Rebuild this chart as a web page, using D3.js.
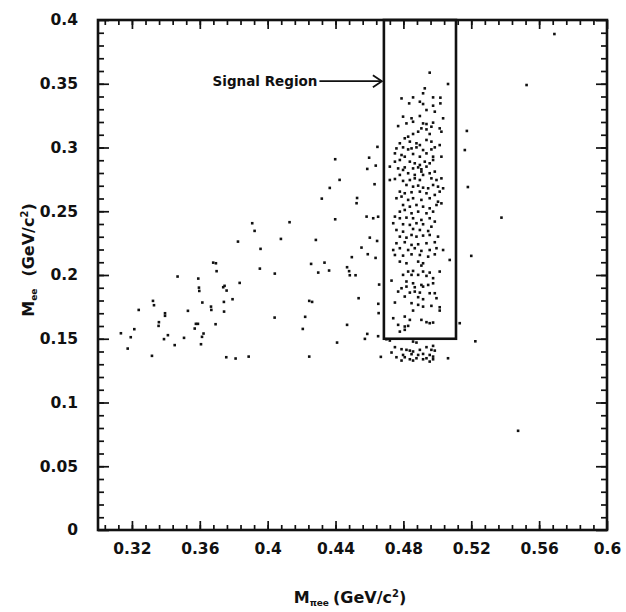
<!DOCTYPE html>
<html lang="en">
<head>
<meta charset="UTF-8">
<title>Mee vs Mpiee</title>
<script src="https://d3js.org/d3.v7.min.js"></script>
<style>
  body { margin: 0; background: #fff; }
  text { font-family: "DejaVu Sans", sans-serif; fill: #111; }
</style>
</head>
<body>
<svg id="chart"></svg>
<script>
// tick values / labels
const xTicks = [0.32, 0.36, 0.4, 0.44, 0.48, 0.52, 0.56, 0.6];
const yTicks = [0, 0.05, 0.1, 0.15, 0.2, 0.25, 0.3, 0.35, 0.4];

// signal region bounds (Mpiee, Mee)
const regionX = [0.4685, 0.511];
const regionY = [0.15, 0.4];

// events left of the signal region
const leftX = [0.3135,0.3175,0.3193,0.3214,0.3240,0.3318,0.3324,0.3330,0.3359,0.3357,0.3389,0.3395,0.3395,0.3412,0.3452,0.3469,0.3507,0.3530,0.3570,0.3577,
  0.3589,0.3591,0.3595,0.3597,0.3607,0.3613,0.3615,0.3622,0.3666,0.3668,0.3679,0.3695,0.3693,0.3699,0.3738,0.3746,0.3742,0.3743,0.3758,0.3756,
  0.3793,0.3811,0.3825,0.3835,0.3888,0.3909,0.3923,0.3954,0.3958,0.4041,0.4042,0.4078,0.4129,0.4207,0.4221,0.4245,0.4245,0.4262,0.4256,0.4284,
  0.4298,0.4319,0.4335,0.4362,0.4366,0.4398,0.4398,0.4409,0.4424,0.4468,0.4468,0.4480,0.4484,0.4496,0.4518,0.4524,0.4527,0.4536,0.4553,0.4573,
  0.4587,0.4583,0.4587,0.4598,0.4590,0.4602,0.4630,0.4636,0.4637,0.4645,0.4622,0.4647,0.4651,0.4657,0.4652,0.4654,0.4651,0.4667];
const leftY = [0.1543,0.1423,0.1512,0.1575,0.1726,0.1366,0.1797,0.1763,0.1630,0.1601,0.1497,0.1700,0.1680,0.1528,0.1450,0.1988,0.1507,0.1719,0.1580,0.1617,
  0.1617,0.1972,0.1901,0.1875,0.1457,0.1515,0.1784,0.1541,0.1752,0.1726,0.2097,0.2092,0.1614,0.2030,0.1904,0.1915,0.1789,0.1713,0.1878,0.1355,
  0.1810,0.1345,0.2262,0.1938,0.1360,0.2406,0.2346,0.2050,0.2205,0.1666,0.2011,0.2283,0.2414,0.1577,0.1672,0.1360,0.1797,0.1789,0.2087,0.2275,
  0.2019,0.2599,0.2097,0.2035,0.2683,0.2908,0.2437,0.1470,0.2746,0.2061,0.1609,0.2030,0.1998,0.2140,0.1998,0.2563,0.2604,0.1818,0.2215,0.1499,
  0.1538,0.2458,0.2832,0.2920,0.2163,0.2293,0.2712,0.2134,0.2858,0.2267,0.2445,0.3005,0.2457,0.1925,0.1774,0.1701,0.1520,0.1358];

// events inside the signal region
const boxX = [0.4955,0.5063,0.4926,0.4916,0.4789,0.4857,0.4975,0.5018,0.4834,0.4897,0.4916,0.4975,0.5018,0.4936,0.4985,0.4798,0.4848,0.4897,0.5034,0.4769,
  0.4818,0.4857,0.4916,0.4936,0.4975,0.4906,0.4936,0.4965,0.5014,0.4887,0.4857,0.4828,0.4808,0.4955,0.5024,0.4779,0.4838,0.4877,0.4897,0.4936,
  0.4965,0.4759,0.4798,0.4828,0.4848,0.4877,0.4916,0.4965,0.4985,0.5014,0.4750,0.4789,0.4808,0.4857,0.4897,0.4936,0.4975,0.5024,0.4750,0.4779,
  0.4838,0.4867,0.4897,0.4926,0.4955,0.4975,0.4720,0.4769,0.4808,0.4857,0.4887,0.4906,0.4936,
  0.4798,0.4906,0.4779,0.4828,0.4867,0.4916,0.4955,0.4985,0.4720,0.4750,0.4798,0.4838,0.4867,0.4897,0.4965,0.4995,0.5024,0.4818,0.4857,0.4887,
  0.4916,0.4946,0.4975,0.5004,0.5034,0.4779,0.4808,0.4848,0.4897,0.4936,0.4985,0.5014,0.4759,0.4789,0.4828,0.4857,0.4906,0.4955,0.5004,0.5024,
  0.4798,0.4838,0.4877,0.4916,0.4955,0.4995,0.4779,0.4808,0.4848,0.4887,0.4936,0.4975,0.4750,0.4779,0.4818,0.4857,0.4906,0.4955,0.4985,0.4740,
  0.4798,0.4838,0.4877,0.4916,0.4965,0.4759,0.4798,0.4857,0.4897,0.4946,0.4779,0.4818,0.4848,0.4877,0.4916,0.4955,0.5004,0.4759,0.4808,0.4848,
  0.4887,0.4936,0.4985,0.4740,0.4779,0.4828,0.4867,0.4906,0.4955,0.4995,0.5034,0.4750,0.4798,0.4848,0.4897,0.4946,0.4985,0.5073,0.4779,0.4818,
  0.4887,0.4916,0.4906,
  0.4828,0.4857,0.4916,0.4955,0.5014,0.4798,0.4848,0.4887,0.4936,0.4975,0.4730,0.4818,0.4857,0.4906,0.4946,0.4975,0.4789,0.4818,0.4867,0.4916,
  0.4769,0.4838,0.4867,0.4897,0.4955,0.4985,0.4808,0.4887,0.4916,0.4995,0.4750,0.4848,0.4887,0.4916,0.4965,0.5014,0.4857,0.5014,0.4740,0.4808,
  0.4838,0.4906,0.4936,0.4955,0.4975,0.4769,0.4808,0.4828,0.4779,0.4808];
const boxY = [0.3587,0.3498,0.3464,0.3425,0.3385,0.3393,0.3393,0.3391,0.3346,0.3359,0.3341,0.3328,0.3346,0.3294,0.3281,0.3242,0.3229,0.3247,0.3229,0.3168,
  0.3189,0.3202,0.3189,0.3184,0.3195,0.3150,0.3142,0.3163,0.3150,0.3124,0.3106,0.3085,0.3072,0.3106,0.3124,0.3033,0.3046,0.3033,0.3019,0.3059,
  0.3046,0.2993,0.3001,0.2985,0.2993,0.3001,0.2980,0.2985,0.3001,0.3019,0.2954,0.2941,0.2928,0.2949,0.2928,0.2954,0.2928,0.2928,0.2889,0.2902,
  0.2889,0.2876,0.2863,0.2889,0.2876,0.2902,0.2850,0.2836,0.2844,0.2836,0.2844,0.2829,0.2850,
  0.2824,0.2811,0.2785,0.2798,0.2785,0.2785,0.2798,0.2811,0.2745,0.2753,0.2738,0.2745,0.2758,0.2745,0.2758,0.2745,0.2758,0.2706,0.2693,0.2701,
  0.2685,0.2680,0.2706,0.2693,0.2680,0.2654,0.2641,0.2649,0.2654,0.2641,0.2628,0.2654,0.2602,0.2615,0.2589,0.2602,0.2589,0.2602,0.2575,0.2562,
  0.2549,0.2536,0.2549,0.2536,0.2523,0.2549,0.2497,0.2510,0.2484,0.2497,0.2484,0.2497,0.2458,0.2445,0.2450,0.2445,0.2432,0.2445,0.2419,0.2406,
  0.2398,0.2393,0.2406,0.2398,0.2379,0.2353,0.2340,0.2361,0.2353,0.2345,0.2301,0.2293,0.2314,0.2301,0.2309,0.2314,0.2301,0.2249,0.2257,0.2236,
  0.2241,0.2249,0.2257,0.2196,0.2210,0.2196,0.2210,0.2189,0.2196,0.2210,0.2196,0.2157,0.2152,0.2162,0.2157,0.2144,0.2162,0.2118,0.2105,0.2092,
  0.2105,0.2092,0.2074,
  0.2027,0.2032,0.2027,0.2019,0.2027,0.2001,0.2001,0.2001,0.1993,0.1975,0.1956,0.1949,0.1935,0.1922,0.1922,0.1935,0.1896,0.1909,0.1904,0.1909,
  0.1870,0.1862,0.1870,0.1862,0.1857,0.1857,0.1831,0.1826,0.1810,0.1818,0.1784,0.1779,0.1766,0.1752,0.1758,0.1747,0.1721,0.1721,0.1661,0.1674,
  0.1648,0.1648,0.1630,0.1622,0.1627,0.1609,0.1596,0.1601,0.1556,0.1570];

// events below the Mee cut
const lowX = [0.4700,0.4720,0.4857,0.4877,0.4975,0.4750,0.4789,0.4818,0.4838,0.4857,0.4897,0.4936,0.4965,0.4985,0.4730,0.4798,0.4848,0.4887,0.4916,0.4955,
  0.4975,0.4759,0.4808,0.4838,0.4877,0.4916,0.4936,0.4975,0.5063,0.4789,0.4857,0.4955];
const lowY = [0.1496,0.1486,0.1478,0.1470,0.1444,0.1434,0.1418,0.1413,0.1407,0.1400,0.1413,0.1434,0.1413,0.1407,0.1392,0.1373,0.1379,0.1373,0.1381,0.1373,
  0.1360,0.1355,0.1355,0.1339,0.1347,0.1339,0.1347,0.1339,0.1347,0.1329,0.1329,0.1321];

// events right of the signal region
const rightX = [0.5526,0.5174,0.5162,0.5180,0.5378,0.5200,0.5224,0.5476,0.5690,0.5132];
const rightY = [0.3490,0.3130,0.2980,0.2690,0.2450,0.2150,0.1480,0.0778,0.3890,0.1622];

const W = 626, H = 612;
const margin = {top: 20, right: 19, bottom: 82, left: 98};
const width = W - margin.left - margin.right;
const height = H - margin.top - margin.bottom;

const svg = d3.select("#chart").attr("width", W).attr("height", H);
const g = svg.append("g").attr("transform", `translate(${margin.left},${margin.top})`);

const x = d3.scaleLinear().domain([0.3, 0.6]).range([0, width]);
const y = d3.scaleLinear().domain([0, 0.4]).range([height, 0]);

const xMinor = d3.range(0, 38).map(i => 0.304 + i * 0.008).filter(v => v < 0.6);
const yMinor = d3.range(1, 40).map(i => i * 0.01);

function styleAxis(sel) {
  sel.select(".domain").remove();
  sel.selectAll("line").attr("stroke", "#111").attr("stroke-width", 1.7);
  sel.selectAll("text").style("font-size", "15.5px").style("font-weight", "bold")
    .style("font-family", "'DejaVu Sans', sans-serif");
}

// minor ticks, all four sides (inward)
g.append("g").attr("transform", `translate(0,${height})`)
  .call(d3.axisBottom(x).tickValues(xMinor).tickSize(-5).tickFormat("")).call(styleAxis);
g.append("g")
  .call(d3.axisTop(x).tickValues(xMinor).tickSize(-5).tickFormat("")).call(styleAxis);
g.append("g")
  .call(d3.axisLeft(y).tickValues(yMinor).tickSize(-6).tickFormat("")).call(styleAxis);
g.append("g").attr("transform", `translate(${width},0)`)
  .call(d3.axisRight(y).tickValues(yMinor).tickSize(-6).tickFormat("")).call(styleAxis);

// major ticks + labels
g.append("g").attr("transform", `translate(0,${height})`)
  .call(d3.axisBottom(x).tickValues(xTicks).tickSize(-9).tickPadding(13).tickFormat(d3.format("~g")))
  .call(styleAxis);
g.append("g")
  .call(d3.axisTop(x).tickValues(xTicks).tickSize(-9).tickFormat("")).call(styleAxis);
g.append("g")
  .call(d3.axisLeft(y).tickValues(yTicks).tickSize(-11).tickPadding(20).tickFormat(d3.format("~g")))
  .call(styleAxis);
g.append("g").attr("transform", `translate(${width},0)`)
  .call(d3.axisRight(y).tickValues(yTicks).tickSize(-11).tickFormat("")).call(styleAxis);

// frame
g.append("rect")
  .attr("x", 0).attr("y", 0).attr("width", width).attr("height", height)
  .attr("fill", "none").attr("stroke", "#111").attr("stroke-width", 2.6);

// events
const events = [];
[[leftX, leftY], [boxX, boxY], [lowX, lowY], [rightX, rightY]].forEach(([xs, ys]) => {
  xs.forEach((v, i) => events.push({m: v, mee: ys[i]}));
});

g.append("g").selectAll("rect")
  .data(events)
  .join("rect")
  .attr("x", d => x(d.m) - 1.3)
  .attr("y", d => y(d.mee) - 1.3)
  .attr("width", 2.6)
  .attr("height", 2.6)
  .attr("fill", "#111");

// signal region box
g.append("rect")
  .attr("x", x(regionX[0]))
  .attr("y", y(regionY[1]))
  .attr("width", x(regionX[1]) - x(regionX[0]))
  .attr("height", y(regionY[0]) - y(regionY[1]))
  .attr("fill", "none").attr("stroke", "#111").attr("stroke-width", 2.6);

// label + arrow
const arrowY = y(0.352);
const ax0 = x(0.4305), ax1 = x(regionX[0]) - 2;
g.append("text")
  .attr("x", ax0 - 2).attr("y", arrowY + 4.5)
  .attr("text-anchor", "end")
  .style("font-size", "13.5px").style("font-weight", "bold")
  .text("Signal Region");
g.append("line")
  .attr("x1", ax0).attr("x2", ax1).attr("y1", arrowY).attr("y2", arrowY)
  .attr("stroke", "#111").attr("stroke-width", 1.8);
g.append("path")
  .attr("d", `M${ax1 - 9},${arrowY - 6}L${ax1},${arrowY}L${ax1 - 9},${arrowY + 6}`)
  .attr("fill", "none").attr("stroke", "#111").attr("stroke-width", 1.8);

// axis titles
const xt = svg.append("text")
  .attr("x", 350).attr("y", 603)
  .attr("text-anchor", "middle")
  .style("font-size", "16px").style("font-weight", "bold");
xt.append("tspan").text("M");
xt.append("tspan").attr("dy", 3).style("font-size", "9px").text("πee");
xt.append("tspan").attr("dy", -3).attr("dx", 4).text("(GeV/c");
xt.append("tspan").attr("dy", -6).style("font-size", "10px").text("2");
xt.append("tspan").attr("dy", 6).text(")");

const yt = svg.append("text")
  .attr("transform", `translate(34,260) rotate(-90)`)
  .attr("text-anchor", "middle")
  .style("font-size", "16px").style("font-weight", "bold");
yt.append("tspan").text("M");
yt.append("tspan").attr("dy", 3).style("font-size", "9px").text("ee");
yt.append("tspan").attr("dy", -3).attr("dx", 12).text("(GeV/c");
yt.append("tspan").attr("dy", -6).style("font-size", "10px").text("2");
yt.append("tspan").attr("dy", 6).text(")");
</script>
</body>
</html>
